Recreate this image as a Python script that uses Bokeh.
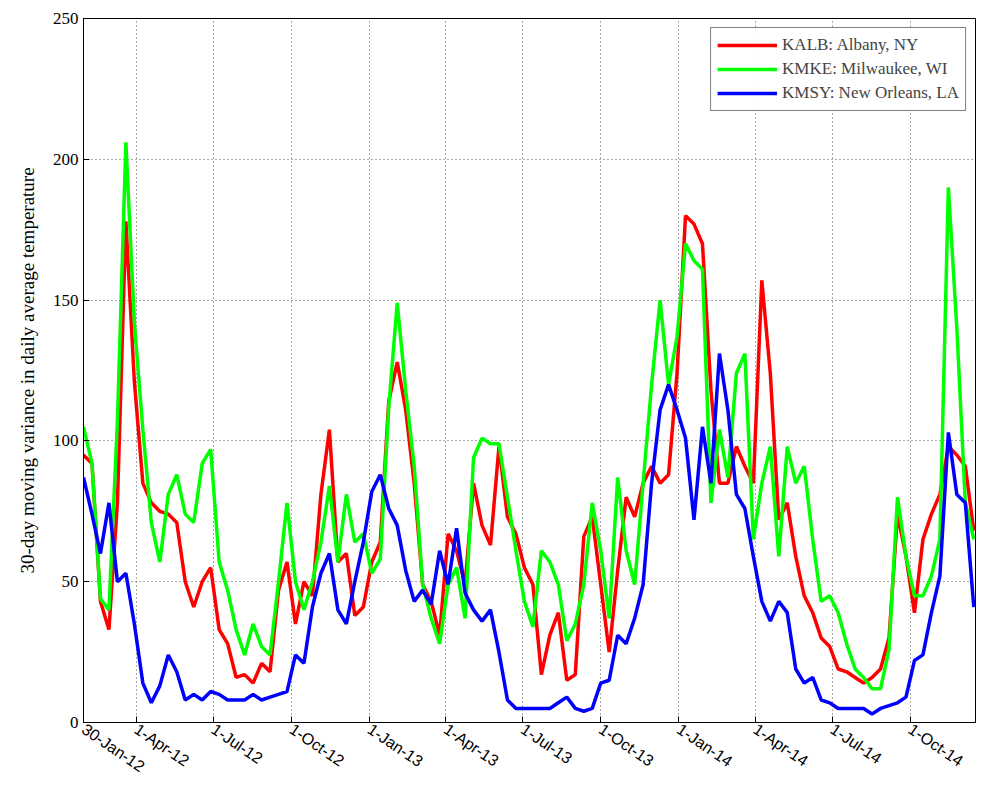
import numpy as np
from bokeh.plotting import figure
from bokeh.models import FixedTicker, Range1d, Legend, LegendItem
from bokeh.embed import file_html
from bokeh.resources import INLINE

# days since 30-Jan-2012, 10-day steps
days = list(range(0, 1051, 10))

kalb = [95, 92, 43, 33, 78, 178, 121, 85, 78, 75, 74, 71, 50, 41, 50, 55, 33, 28, 16, 17, 14, 21, 18, 47, 57, 35,
        50, 45, 81, 104, 57, 60, 38, 41, 57, 64, 114, 128, 111, 85, 49, 43, 31, 67, 61, 49, 85, 70, 63, 98, 73, 67,
        55, 49, 17, 31, 39, 15, 17, 66, 73, 49, 25, 54, 80, 73, 85, 91, 85, 88, 124, 180, 177, 170, 118, 85, 85, 98,
        91, 85, 157, 124, 72, 78, 59, 45, 39, 30, 27, 19, 18, 16, 14, 16, 19, 30, 74, 59, 39, 65, 74, 81, 98, 95, 91, 68]
kmke = [105, 92, 44, 40, 107, 206, 142, 104, 71, 57, 81, 88, 74, 71, 92, 97, 57, 47, 33, 24, 35, 27, 24, 50, 78, 50,
        40, 50, 64, 84, 57, 81, 64, 67, 53, 58, 112, 149, 118, 91, 49, 37, 28, 49, 55, 37, 94, 101, 99, 99, 80, 61,
        43, 34, 61, 57, 49, 29, 35, 49, 78, 61, 37, 87, 61, 49, 85, 120, 150, 120, 137, 170, 164, 161, 78, 104, 87, 124,
        131, 65, 85, 98, 59, 98, 85, 91, 65, 43, 45, 39, 28, 19, 16, 12, 12, 26, 80, 59, 45, 45, 52, 65, 190, 140, 78, 65]
kmsy = [87, 74, 60, 78, 50, 53, 35, 14, 7, 13, 24, 18, 8, 10, 8, 11, 10, 8, 8, 8, 10, 8, 9, 10, 11, 24,
        21, 41, 53, 60, 40, 35, 50, 64, 82, 88, 76, 70, 54, 43, 47, 42, 61, 49, 69, 46, 40, 36, 40, 25, 8, 5,
        5, 5, 5, 5, 7, 9, 5, 4, 5, 14, 15, 31, 28, 37, 49, 85, 111, 120, 111, 101, 72, 105, 85, 131, 111, 81,
        76, 59, 43, 36, 43, 39, 19, 14, 16, 8, 7, 5, 5, 5, 5, 3, 5, 6, 7, 9, 22, 24, 39, 52, 103, 81, 78, 41]

tick_days = [0, 62, 153, 245, 337, 427, 518, 610, 702, 792, 883, 975]
tick_labels = ["30-Jan-12", "1-Apr-12", "1-Jul-12", "1-Oct-12", "1-Jan-13", "1-Apr-13", "1-Jul-13",
               "1-Oct-13", "1-Jan-14", "1-Apr-14", "1-Jul-14", "1-Oct-14"]
y_ticks = [0, 50, 100, 150, 200, 250]

p = figure(frame_width=892, frame_height=704, output_backend="svg", toolbar_location=None,
           x_range=Range1d(0, 1052), y_range=Range1d(0, 250),
           min_border_left=83, min_border_right=6, min_border_top=18, min_border_bottom=58)
p.outline_line_color = "black"
p.outline_line_width = 1

r1 = p.line(days, kalb, line_color="#ff0000", line_width=3.5)
r2 = p.line(days, kmke, line_color="#00ff00", line_width=3.5)
r3 = p.line(days, kmsy, line_color="#0000ff", line_width=3.5)

p.xaxis.ticker = FixedTicker(ticks=tick_days)
p.xaxis.major_label_overrides = {d: l for d, l in zip(tick_days, tick_labels)}
p.xaxis.major_label_orientation = -0.6
p.yaxis.ticker = FixedTicker(ticks=y_ticks)
for ax in (p.xaxis[0], p.yaxis[0]):
    ax.major_tick_in = 6
    ax.major_tick_out = 0
    ax.minor_tick_in = 0
    ax.minor_tick_out = 0
    ax.axis_line_color = "black"
    ax.major_tick_line_color = "black"
    ax.major_label_text_color = "black"
    ax.major_label_text_font_size = "16px"
p.xaxis.major_label_text_font = "Liberation Sans"
p.yaxis.major_label_text_font = "Liberation Serif"
p.yaxis.major_label_text_font_size = "17px"
p.yaxis.axis_label = "30-day moving variance in daily average temperature"
p.yaxis.axis_label_text_font = "Liberation Serif"
p.yaxis.axis_label_text_font_style = "normal"
p.yaxis.axis_label_text_color = "black"
p.yaxis.axis_label_text_font_size = "19px"
p.yaxis.axis_label_standoff = 12

for g in (p.xgrid[0], p.ygrid[0]):
    g.grid_line_color = "#555555"
    g.grid_line_dash = "1 3"
    g.grid_line_width = 1

legend = Legend(items=[LegendItem(label="KALB: Albany, NY", renderers=[r1]),
                       LegendItem(label="KMKE: Milwaukee, WI", renderers=[r2]),
                       LegendItem(label="KMSY: New Orleans, LA", renderers=[r3])],
                location="top_right")
legend.label_text_font = "Liberation Serif"
legend.label_text_font_size = "17px"
legend.border_line_color = "black"
legend.spacing = 2
legend.padding = 6
legend.label_height = 22
legend.glyph_height = 22
legend.glyph_width = 60
legend.margin = 9
p.add_layout(legend)

open("out.html", "w").write(file_html(p, INLINE))
